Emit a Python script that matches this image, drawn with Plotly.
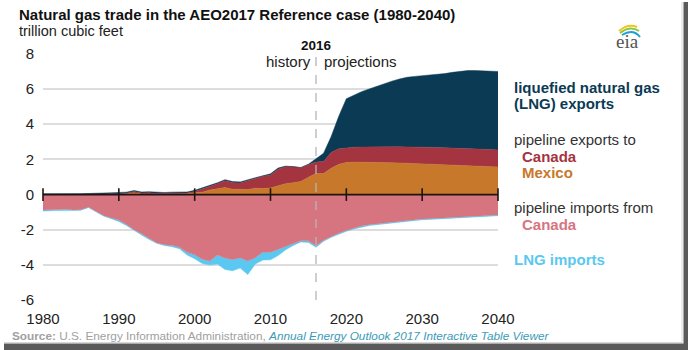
import plotly.graph_objects as go

years = list(range(1980, 2041))

# pipeline exports to Mexico (tcf)
mexico_exports = [
    0.00, 0.00, 0.00, 0.00, 0.00, 0.00, 0.00, 0.00, 0.02, 0.02,
    0.02, 0.06, 0.10, 0.04, 0.05, 0.03, 0.02, 0.02, 0.03, 0.05,
    0.11, 0.14, 0.26, 0.34, 0.40, 0.31, 0.32, 0.29, 0.36, 0.34,
    0.38, 0.50, 0.62, 0.68, 0.75, 0.98, 1.20, 1.20, 1.50, 1.72,
    1.82, 1.85, 1.85, 1.84, 1.83, 1.82, 1.81, 1.80, 1.78, 1.77,
    1.76, 1.74, 1.72, 1.70, 1.68, 1.66, 1.64, 1.62, 1.60, 1.59,
    1.57]
# pipeline exports to Canada
canada_exports = [
    0.00, 0.00, 0.00, 0.00, 0.00, 0.00, 0.00, 0.01, 0.02, 0.03,
    0.02, 0.02, 0.07, 0.05, 0.05, 0.03, 0.05, 0.06, 0.04, 0.04,
    0.07, 0.17, 0.19, 0.27, 0.39, 0.36, 0.34, 0.48, 0.56, 0.70,
    0.74, 0.94, 0.97, 0.91, 0.77, 0.72, 0.65, 0.68, 0.90, 0.88,
    0.83, 0.84, 0.85, 0.87, 0.88, 0.90, 0.91, 0.92, 0.93, 0.94,
    0.94, 0.95, 0.96, 0.96, 0.97, 0.97, 0.97, 0.97, 0.97, 0.97,
    0.97]
# liquefied natural gas exports
lng_exports = [
    0.05, 0.06, 0.05, 0.05, 0.05, 0.05, 0.05, 0.05, 0.05, 0.05,
    0.06, 0.06, 0.06, 0.06, 0.06, 0.07, 0.05, 0.06, 0.06, 0.06,
    0.06, 0.07, 0.06, 0.06, 0.06, 0.07, 0.06, 0.05, 0.04, 0.03,
    0.06, 0.07, 0.03, 0.00, 0.02, 0.03, 0.19, 0.47, 0.90, 1.85,
    2.80, 2.96, 3.15, 3.29, 3.44, 3.60, 3.73, 3.85, 3.96, 4.01,
    4.06, 4.09, 4.14, 4.22, 4.30, 4.39, 4.44, 4.46, 4.46, 4.45,
    4.46]
# pipeline imports from Canada (negative = imports)
canada_imports = [
    -0.88, -0.86, -0.85, -0.83, -0.88, -0.86, -0.72, -0.95, -1.20, -1.33,
    -1.45, -1.70, -2.00, -2.22, -2.50, -2.75, -2.85, -2.88, -3.00, -3.28,
    -3.42, -3.68, -3.78, -3.44, -3.61, -3.70, -3.59, -3.78, -3.59, -3.27,
    -3.28, -3.12, -2.96, -2.79, -2.63, -2.63, -2.91, -2.60, -2.38, -2.20,
    -2.04, -1.91, -1.79, -1.71, -1.66, -1.61, -1.56, -1.51, -1.46, -1.42,
    -1.39, -1.37, -1.35, -1.33, -1.30, -1.27, -1.25, -1.23, -1.21, -1.19,
    -1.16]
# LNG imports
lng_imports = [
    -0.06, -0.04, -0.05, -0.08, -0.04, -0.03, -0.01, -0.01, -0.02, -0.04,
    -0.08, -0.06, -0.04, -0.08, -0.05, -0.02, -0.04, -0.08, -0.08, -0.16,
    -0.23, -0.24, -0.23, -0.51, -0.65, -0.63, -0.58, -0.77, -0.35, -0.45,
    -0.43, -0.35, -0.18, -0.10, -0.06, -0.09, -0.09, -0.05, -0.05, -0.05,
    -0.05, -0.05, -0.05, -0.05, -0.05, -0.05, -0.05, -0.05, -0.05, -0.04,
    -0.04, -0.04, -0.04, -0.04, -0.04, -0.04, -0.04, -0.04, -0.04, -0.04,
    -0.04]

x_ticks = [1980, 1990, 2000, 2010, 2020, 2030, 2040]
x_tick_labels = ["1980", "1990", "2000", "2010", "2020", "2030", "2040"]
y_ticks = [-6, -4, -2, 0, 2, 4, 6, 8]
y_tick_labels = ["-6", "-4", "-2", "0", "2", "4", "6", "8"]
split_year = 2016

C_LNG_EXP = "#0b3a55"
C_CAN_EXP = "#a4343f"
C_MEX_EXP = "#c8782b"
C_CAN_IMP = "#d6747f"
C_LNG_IMP = "#5ac8f0"

FONT = "Liberation Sans, Arial, sans-serif"
W, H = 688, 350
L, R, T, B = 43, 190, 53, 49
PW, PH = W - L - R, H - T - B


def px(xp):
    return (xp - L) / PW


def py(yp):
    return (H - B - yp) / PH


fig = go.Figure()

pos_series = [("Mexico", mexico_exports, C_MEX_EXP),
              ("Canada exports", canada_exports, C_CAN_EXP),
              ("LNG exports", lng_exports, C_LNG_EXP)]
neg_series = [("Canada imports", canada_imports, C_CAN_IMP),
              ("LNG imports", lng_imports, C_LNG_IMP)]

for name, vals, col in pos_series:
    fig.add_trace(go.Scatter(x=years, y=vals, name=name, stackgroup="pos",
                             mode="lines", line=dict(width=0.5, color=col),
                             fillcolor=col, hoverinfo="skip"))
for name, vals, col in neg_series:
    fig.add_trace(go.Scatter(x=years, y=vals, name=name, stackgroup="neg",
                             mode="lines", line=dict(width=0.5, color=col),
                             fillcolor=col, hoverinfo="skip"))

# zero axis line with crossing tick marks
fig.add_trace(go.Scatter(x=[years[0], years[-1]], y=[0, 0], mode="lines",
                         line=dict(color="#1e1410", width=1.6),
                         hoverinfo="skip", cliponaxis=False))
fig.add_trace(go.Scatter(x=x_ticks, y=[0] * len(x_ticks), mode="markers",
                         marker=dict(symbol="line-ns", size=9,
                                     line=dict(color="#1e1410", width=1.6)),
                         hoverinfo="skip", cliponaxis=False))

shapes = [
    dict(type="line", xref="x", yref="y", x0=split_year, x1=split_year,
         y0=y_ticks[0], y1=y_ticks[-1],
         line=dict(color="#b5b5b5", width=1.3, dash="dash"), layer="above"),
    # frame shadow
    dict(type="rect", xref="paper", yref="paper", x0=px(683.5), x1=px(689),
         y0=py(351), y1=py(2), fillcolor="#5a5a5a", line=dict(width=0)),
    dict(type="rect", xref="paper", yref="paper", x0=px(4), x1=px(689),
         y0=py(351), y1=py(343.5), fillcolor="#5a5a5a", line=dict(width=0)),
    dict(type="line", xref="paper", yref="paper", x0=px(682), x1=px(682),
         y0=py(343), y1=py(2), line=dict(color="#d8d8d8", width=1)),
    dict(type="line", xref="paper", yref="paper", x0=px(4), x1=px(682),
         y0=py(342.5), y1=py(342.5), line=dict(color="#d8d8d8", width=1)),
]


def arc(p0, c, p1, color, width):
    return dict(type="path", xref="paper", yref="paper",
                path=f"M {px(p0[0])},{py(p0[1])} Q {px(c[0])},{py(c[1])} {px(p1[0])},{py(p1[1])}",
                line=dict(color=color, width=width))


shapes += [
    arc((619, 31), (628, 23), (637, 27), "#f2c318", 2.0),
    arc((620, 33), (630, 25), (639, 31), "#8cc63f", 2.0),
    arc((622, 35), (633, 28), (640, 37), "#1aa0d8", 2.0),
]

annotations = []


def txt(text, x, y, size, color, bold=False, italic=False, anchor="left",
        xref="paper", family=FONT):
    t = text
    if bold:
        t = f"<b>{t}</b>"
    if italic:
        t = f"<i>{t}</i>"
    annotations.append(dict(text=t, x=x, y=y, xref=xref, yref="paper",
                            xanchor=anchor, yanchor="middle", showarrow=False,
                            font=dict(size=size, color=color, family=family)))


txt("Natural gas trade in the AEO2017 Reference case (1980-2040)", px(17), py(15), 15, "#111", bold=True)
txt("trillion cubic feet", px(17), py(31), 14.5, "#222")
txt("eia", px(627), py(41), 19, "#555", anchor="center",
    family="Liberation Serif, DejaVu Serif, serif")

annotations.append(dict(text="<b>2016</b>", x=split_year, y=py(46), xref="x",
                        yref="paper", xanchor="center", yanchor="middle",
                        showarrow=False, font=dict(size=13.5, color="#111", family=FONT)))
annotations.append(dict(text="history", x=split_year, y=py(62), xref="x",
                        yref="paper", xanchor="right", yanchor="middle", xshift=-3,
                        showarrow=False, font=dict(size=15, color="#222", family=FONT)))
annotations.append(dict(text="projections", x=split_year, y=py(62), xref="x",
                        yref="paper", xanchor="left", yanchor="middle", xshift=6,
                        showarrow=False, font=dict(size=15, color="#222", family=FONT)))

txt("liquefied natural gas", px(512), py(87), 15, C_LNG_EXP, bold=True)
txt("(LNG) exports", px(512), py(103), 15, C_LNG_EXP, bold=True)
txt("pipeline exports to", px(512), py(139), 15, "#333")
txt("Canada", px(520), py(156), 15, C_CAN_EXP, bold=True)
txt("Mexico", px(520), py(172), 15, C_MEX_EXP, bold=True)
txt("pipeline imports from", px(512), py(207), 15, "#333")
txt("Canada", px(520), py(224), 15, C_CAN_IMP, bold=True)
txt("LNG imports", px(512), py(259), 15, C_LNG_IMP, bold=True)

annotations.append(dict(
    text="<b>Source:</b> U.S. Energy Information Administration, "
         "<i><span style='color:#3c9ab8'>Annual Energy Outlook 2017 Interactive Table Viewer</span></i>",
    x=px(10), y=py(336), xref="paper", yref="paper", xanchor="left",
    yanchor="middle", showarrow=False,
    font=dict(size=11.8, color="#a0a0a0", family=FONT)))

fig.update_layout(
    width=W, height=H,
    margin=dict(l=L, r=R, t=T, b=B, pad=0),
    paper_bgcolor="white", plot_bgcolor="white",
    showlegend=False,
    font=dict(family=FONT, color="#222"),
    shapes=shapes, annotations=annotations,
    xaxis=dict(range=[x_ticks[0], x_ticks[-1]], tickvals=x_ticks,
               ticktext=x_tick_labels, showgrid=False, zeroline=False,
               showline=False, ticks="", tickfont=dict(size=15, color="#222"),
               ticklabelstandoff=7, fixedrange=True),
    yaxis=dict(range=[-6.05, 8.05], tickvals=y_ticks, ticktext=y_tick_labels,
               showgrid=True, gridcolor="#dddddd", gridwidth=1.5,
               zeroline=False, showline=False, ticks="",
               tickfont=dict(size=15, color="#222"), ticklabelstandoff=8,
               fixedrange=True),
)

fig.write_html("out.html")
